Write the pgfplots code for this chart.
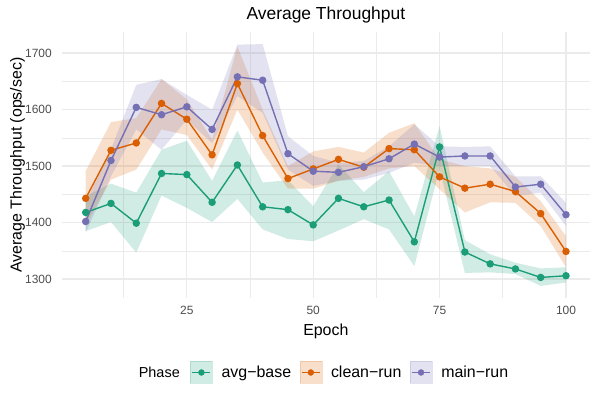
\documentclass[border=0pt]{standalone}
\usepackage{fontspec}
\setmainfont{Liberation Sans}
\usepackage{pgfplots}
\pgfplotsset{compat=1.18}
\usepgfplotslibrary{fillbetween}
\usepackage{pgfplotstable}

\definecolor{cbase}{HTML}{1B9E77}
\definecolor{cclean}{HTML}{D95F02}
\definecolor{cmain}{HTML}{7570B3}
\definecolor{tickgray}{HTML}{4D4D4D}
\definecolor{gridgray}{HTML}{EBEBEB}

% epoch, mean, lower, upper
\pgfplotstableread{
x y lo hi
5 1418 1385 1447
10 1434 1401 1469
15 1399 1347 1453
20 1487 1448 1529
25 1485 1426 1545
30 1436 1401 1474
35 1502 1442 1563
40 1428 1388 1471
45 1423 1371 1475
50 1396 1367 1429
55 1443 1386 1503
60 1428 1406 1454
65 1440 1388 1491
70 1366 1323 1411
75 1534 1495 1571
80 1348 1311 1369
85 1327 1312 1344
90 1318 1309 1329
95 1303 1288 1319
100 1306 1294 1321
}\tbase

\pgfplotstableread{
x y lo hi
5 1443 1395 1491
10 1528 1476 1578
15 1541 1494 1585
20 1611 1565 1654
25 1583 1555 1618
30 1520 1494 1547
35 1646 1600 1712
40 1554 1524 1600
45 1478 1460 1500
50 1495 1460 1526
55 1512 1474 1534
60 1498 1481 1524
65 1531 1496 1559
70 1529 1500 1576
75 1481 1459 1512
80 1461 1418 1500
85 1468 1436 1496
90 1455 1435 1481
95 1416 1394 1438
100 1349 1321 1376
}\tclean

\pgfplotstableread{
x y lo hi
5 1402 1382 1435
10 1510 1482 1530
15 1604 1565 1644
20 1591 1529 1654
25 1605 1582 1626
30 1565 1541 1600
35 1658 1624 1715
40 1652 1594 1716
45 1522 1494 1553
50 1491 1465 1518
55 1489 1474 1506
60 1499 1476 1509
65 1513 1488 1535
70 1539 1506 1574
75 1516 1500 1535
80 1518 1500 1534
85 1518 1500 1535
90 1463 1447 1482
95 1468 1453 1482
100 1414 1394 1435
}\tmain

\pgfplotsset{
  keybox/.style={legend image code/.code={
    \fill[#1,opacity=0.2] (0bp,-11bp) rectangle (22bp,11bp);
    \draw[#1,line width=1.4bp] (2bp,0bp)--(20bp,0bp);
    \fill[#1] (11bp,0bp) circle (3bp);}},
}

\begin{document}
\begin{tikzpicture}
\begin{axis}[
  at={(61.7bp,101bp)},anchor=south west,
  scale only axis,width=528.3bp,height=266bp,
  xmin=0.25,xmax=104.75,ymin=1266.6,ymax=1737.4,
  axis line style={draw=none},tick style={draw=none},
  xtick={25,50,75,100},ytick={1300,1400,1500,1600,1700},
  minor xtick={12.5,37.5,62.5,87.5},minor ytick={1350,1450,1550,1650},
  grid=both,
  major grid style={gridgray,line width=1.3bp},
  minor grid style={gridgray,line width=0.65bp},
  /pgf/number format/assume math mode=true,
  /pgf/number format/1000 sep={},
  tick label style={font=\fontsize{12}{12}\selectfont,text=tickgray,inner sep=0pt},
  xticklabel style={anchor=north,yshift=-8bp},
  yticklabel style={anchor=east,xshift=-9.7bp},
  every axis title shift=0pt,
  title={Average Throughput},
  title style={font=\fontsize{17.5}{18}\selectfont,inner sep=0pt,anchor=base,
    at={(axis description cs:0.5,1.0451)}},
  xlabel={Epoch},
  xlabel style={font=\fontsize{16}{16}\selectfont,inner sep=0pt,anchor=base,
    at={(axis description cs:0.5,-0.1391)}},
  ylabel={Average Throughput (ops/sec)},
  ylabel style={font=\fontsize{16}{16}\selectfont,inner sep=0pt,anchor=base,
    at={(axis description cs:-0.0757,0.5)}},
  legend columns=3,legend cell align=left,
  legend style={at={(0.2429,-0.280)},anchor=west,draw=none,fill=none,
    inner sep=0pt,font=\fontsize{16}{16}\selectfont,
    nodes={inner sep=0pt},
    /tikz/every odd column/.append style={column sep=9bp},
    /tikz/every even column/.append style={column sep=8.4bp}},
  clip=false,
]
% ribbons
\addplot[name path=bU,draw=none,forget plot] table[x=x,y=hi]{\tbase};
\addplot[name path=bL,draw=none,forget plot] table[x=x,y=lo]{\tbase};
\addplot[cbase,fill opacity=0.2,draw=none,forget plot] fill between[of=bU and bL];
\addplot[name path=cU,draw=none,forget plot] table[x=x,y=hi]{\tclean};
\addplot[name path=cL,draw=none,forget plot] table[x=x,y=lo]{\tclean};
\addplot[cclean,fill opacity=0.2,draw=none,forget plot] fill between[of=cU and cL];
\addplot[name path=mU,draw=none,forget plot] table[x=x,y=hi]{\tmain};
\addplot[name path=mL,draw=none,forget plot] table[x=x,y=lo]{\tmain};
\addplot[cmain,fill opacity=0.2,draw=none,forget plot] fill between[of=mU and mL];
% lines and points
\addplot[cbase,line width=1.4bp,mark=*,mark size=3bp,forget plot] table[x=x,y=y]{\tbase};
\addplot[cclean,line width=1.4bp,mark=*,mark size=3bp,forget plot] table[x=x,y=y]{\tclean};
\addplot[cmain,line width=1.4bp,mark=*,mark size=3bp,forget plot] table[x=x,y=y]{\tmain};
% legend
\addlegendimage{keybox=cbase}\addlegendentry{avg−base}
\addlegendimage{keybox=cclean}\addlegendentry{clean−run}
\addlegendimage{keybox=cmain}\addlegendentry{main−run}
\node[anchor=base east,inner sep=0pt,font=\fontsize{14.5}{14.5}\selectfont]
  at (axis description cs:0.2239,-0.2996) {Phase};
\end{axis}
\pgfresetboundingbox
\path[use as bounding box] (0,0) rectangle (598bp,399bp);
\end{tikzpicture}
\end{document}
